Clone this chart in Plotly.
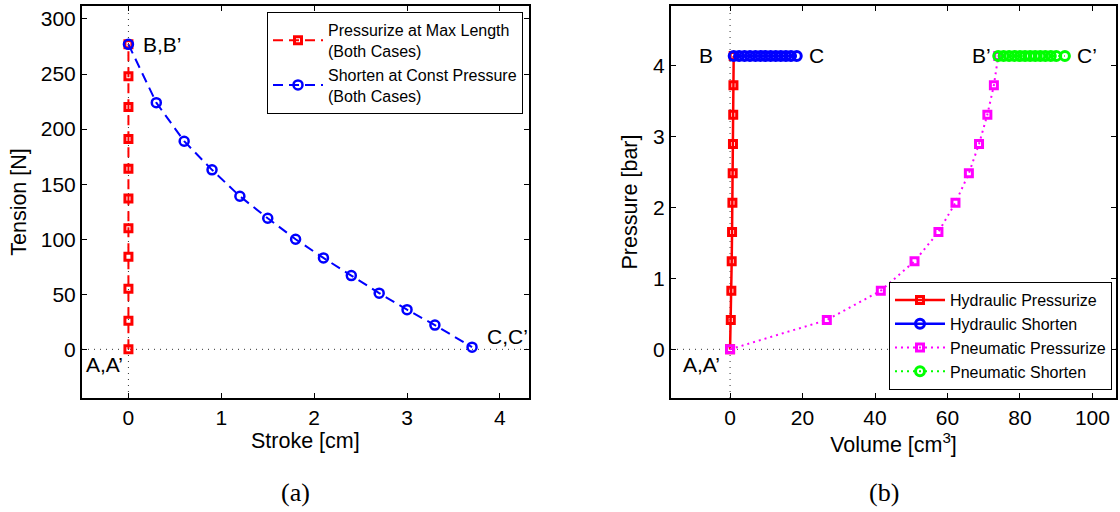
import plotly.graph_objects as go

# ---------------- data ----------------
# (a) Tension vs stroke
stroke_press = [0, 0, 0, 0, 0, 0, 0, 0, 0, 0, 0]
tension_press = [0, 26, 55, 84, 110, 137, 164, 191, 220, 248, 277]
stroke_short = [0, 0.3, 0.6, 0.9, 1.2, 1.5, 1.8, 2.1, 2.4, 2.7, 3.0, 3.3, 3.7]
tension_short = [277, 224, 189, 163, 139, 119, 100, 83, 67, 51, 36, 22, 2]

# (b) Pressure vs volume
pressure_rise = [0, 0.414, 0.828, 1.242, 1.656, 2.07, 2.484, 2.898, 3.312, 3.726, 4.14]
hyd_press_vol = [0, 0.2, 0.35, 0.45, 0.55, 0.65, 0.72, 0.8, 0.87, 0.93, 1.0]
pneu_press_vol = [0, 26.7, 41.6, 50.9, 57.5, 62.2, 65.9, 68.7, 71.0, 72.8, 74.0]
hyd_short_vol = [1.0, 2.5, 4.0, 5.5, 7.0, 8.4, 9.8, 11.2, 12.6, 14.0, 15.4, 16.8, 18.4]
pneu_short_vol = [74.0, 75.5, 77.0, 78.5, 80.0, 81.4, 82.8, 84.2, 85.6, 87.0, 88.5, 90.0, 92.4]
short_pressure = [4.14] * 13

xticks_a = [0, 1, 2, 3, 4]
yticks_a = [0, 50, 100, 150, 200, 250, 300]
xticks_b = [0, 20, 40, 60, 80, 100]
yticks_b = [0, 1, 2, 3, 4]

# ---------------- layout geometry (pixels) ----------------
W, H = 1120, 512
A_L, A_R, TOP, BOT = 82, 528.7, 6, 398
B_L, B_R = 671, 1116

def px_x(p):
    return p / W

def px_y(p):
    return 1 - p / H

FONT = "Arial, Liberation Sans, Helvetica, sans-serif"
SERIF = "Liberation Serif, Times New Roman, serif"

fig = go.Figure()

def mk(symbol, color, size, lw):
    return dict(symbol=symbol, size=size, color=color, line=dict(color=color, width=lw))

fig.add_trace(go.Scatter(
    x=stroke_press, y=tension_press, mode="lines+markers",
    name="Pressurize at Max Length<br>(Both Cases)",
    line=dict(color="#ff0000", width=2, dash="10px,6px"),
    marker=mk("square-open", "#ff0000", 7, 3),
    xaxis="x", yaxis="y", legend="legend"))
fig.add_trace(go.Scatter(
    x=stroke_short, y=tension_short, mode="lines+markers",
    name="Shorten at Const Pressure<br>(Both Cases)",
    line=dict(color="#0000ff", width=2, dash="10px,6px"),
    marker=mk("circle-open", "#0000ff", 9, 2.5),
    xaxis="x", yaxis="y", legend="legend"))

fig.add_trace(go.Scatter(
    x=hyd_press_vol, y=pressure_rise, mode="lines+markers",
    name="Hydraulic Pressurize",
    line=dict(color="#ff0000", width=2.5),
    marker=mk("square-open", "#ff0000", 7, 3),
    xaxis="x2", yaxis="y2", legend="legend2"))
fig.add_trace(go.Scatter(
    x=hyd_short_vol, y=short_pressure, mode="lines+markers",
    name="Hydraulic Shorten",
    line=dict(color="#0000ff", width=2.5),
    marker=mk("circle-open", "#0000ff", 9, 3),
    xaxis="x2", yaxis="y2", legend="legend2"))
fig.add_trace(go.Scatter(
    x=pneu_press_vol, y=pressure_rise, mode="lines+markers",
    name="Pneumatic Pressurize",
    line=dict(color="#ff00ff", width=2, dash="2px,4px"),
    marker=mk("square-open", "#ff00ff", 7, 3),
    xaxis="x2", yaxis="y2", legend="legend2"))
fig.add_trace(go.Scatter(
    x=pneu_short_vol, y=short_pressure, mode="lines+markers",
    name="Pneumatic Shorten",
    line=dict(color="#00ff00", width=2, dash="2px,4px"),
    marker=mk("circle-open", "#00ff00", 9, 3),
    xaxis="x2", yaxis="y2", legend="legend2"))

axis_common = dict(
    showline=True, linecolor="black", linewidth=2, mirror="ticks",
    ticks="inside", ticklen=5, tickwidth=1, tickcolor="black",
    showgrid=False, zeroline=False,
    tickfont=dict(family=FONT, size=21, color="black"),
)
TITLE_FONT = dict(family=FONT, size=21.5, color="black")

fig.update_layout(
    width=W, height=H, autosize=False,
    margin=dict(l=0, r=0, t=0, b=0),
    paper_bgcolor="white", plot_bgcolor="white",
    showlegend=True,
    xaxis=dict(axis_common, domain=[px_x(A_L), px_x(A_R)], range=[-0.5, 4.31],
               tickvals=xticks_a, anchor="y",
               title=dict(text="Stroke [cm]", font=TITLE_FONT, standoff=4)),
    yaxis=dict(axis_common, domain=[px_y(BOT), px_y(TOP)], range=[-44.2, 311.8],
               tickvals=yticks_a, anchor="x",
               title=dict(text="Tension [N]", font=TITLE_FONT, standoff=8)),
    xaxis2=dict(axis_common, domain=[px_x(B_L), px_x(B_R)], range=[-16.3, 106.5],
                tickvals=xticks_b, anchor="y2",
                title=dict(text="Volume [cm<sup>3</sup>]", font=TITLE_FONT, standoff=4)),
    yaxis2=dict(axis_common, domain=[px_y(BOT), px_y(TOP)], range=[-0.687, 4.845],
                tickvals=yticks_b, anchor="x2",
                title=dict(text="Pressure [bar]", font=TITLE_FONT, standoff=10)),
    legend=dict(x=px_x(267), y=px_y(12), xanchor="left", yanchor="top",
                bgcolor="white", bordercolor="black", borderwidth=1,
                font=dict(family=FONT, size=16, color="black"),
                tracegroupgap=0, itemwidth=50),
    legend2=dict(x=px_x(889), y=px_y(390), xanchor="left", yanchor="bottom",
                 bgcolor="white", bordercolor="black", borderwidth=1,
                 font=dict(family=FONT, size=16, color="black"),
                 tracegroupgap=0, itemwidth=50),
)

dot = dict(color="#333333", width=1, dash="1px,5px")
fig.add_shape(type="line", xref="x", yref="y domain", x0=0, x1=0, y0=0, y1=1, line=dot, layer="below")
fig.add_shape(type="line", xref="x domain", yref="y", x0=0, x1=1, y0=0, y1=0, line=dot, layer="below")
fig.add_shape(type="line", xref="x2", yref="y2 domain", x0=0, x1=0, y0=0, y1=1, line=dot, layer="below")
fig.add_shape(type="line", xref="x2 domain", yref="y2", x0=0, x1=1, y0=0, y1=0, line=dot, layer="below")

lab = dict(family=FONT, size=21, color="black")
def note(text, x, y, xr, yr, xanchor):
    fig.add_annotation(text=text, x=x, y=y, xref=xr, yref=yr, xanchor=xanchor,
                       yanchor="middle", showarrow=False, font=lab)

note("B,B\u2019", 0.13, 277, "x", "y", "left")
note("A,A\u2019", -0.04, -14, "x", "y", "right")
note("C,C\u2019", 3.84, 12, "x", "y", "left")
note("B", -4.2, 4.14, "x2", "y2", "right")
note("C", 21.2, 4.14, "x2", "y2", "left")
note("B\u2019", 72.6, 4.14, "x2", "y2", "right")
note("C\u2019", 95.1, 4.14, "x2", "y2", "left")
note("A,A\u2019", -2.2, -0.22, "x2", "y2", "right")

fig.add_annotation(text="(a)", x=px_x(295), y=px_y(492), xref="paper", yref="paper",
                   showarrow=False, xanchor="center", yanchor="middle",
                   font=dict(family=SERIF, size=26, color="black"))
fig.add_annotation(text="(b)", x=px_x(884), y=px_y(492), xref="paper", yref="paper",
                   showarrow=False, xanchor="center", yanchor="middle",
                   font=dict(family=SERIF, size=26, color="black"))

fig.write_html("out.html")
